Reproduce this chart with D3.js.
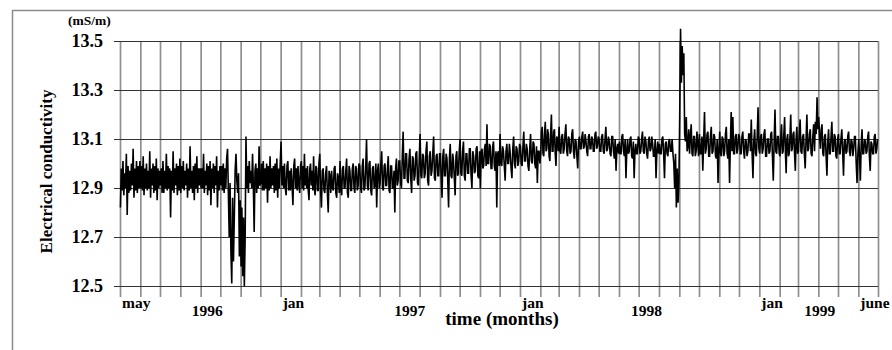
<!DOCTYPE html>
<html>
<head>
<meta charset="utf-8">
<script src="https://cdn.jsdelivr.net/npm/d3@7"></script>
<style>
  body { margin: 0; background: #fff; }
  svg { display: block; font-family: "Liberation Serif", "Times New Roman", serif; font-weight: bold; }
</style>
</head>
<body>
<div id="chart"></div>
<script>
// record runs from 1 May 1996 to the end of June 1999
const startDate = new Date(1996, 4, 1);
const endDate = new Date(1999, 6, 1);

// conductivity readings, hundredths of mS/m above 12.00, one row per month (May 1996 ... June 1999)
const conductivityByMonth = [
  [82, 98, 89, 101, 87, 96, 90, 104, 79, 99, 88, 97, 89, 100, 91, 106, 86, 98, 89, 101, 88, 99, 90, 101], // may 96
  [90, 99, 89, 103, 87, 98, 90, 100, 89, 97, 90, 105, 86, 98, 91, 100, 88, 99, 89, 102, 85, 98, 90, 97],
  [91, 98, 88, 101, 88, 97, 90, 104, 89, 99, 90, 98, 78, 97, 89, 105, 88, 98, 91, 100, 87, 99, 89, 102],
  [88, 99, 90, 101, 89, 97, 91, 100, 86, 98, 89, 107, 90, 97, 88, 99, 85, 100, 90, 103, 88, 98, 91, 98],
  [90, 98, 90, 104, 88, 97, 91, 100, 87, 99, 89, 101, 83, 98, 90, 100, 88, 99, 91, 103, 82, 97, 89, 99],
  [91, 99, 89, 100, 88, 98, 90, 102, 106, 88, 70, 92, 64, 51, 86, 60, 78, 97, 104, 93, 88, 96, 62, 85], // oct 96, drops
  [58, 82, 54, 78, 50, 70, 111, 90, 99, 88, 101, 92, 97, 90, 104, 91, 72, 97, 100, 88, 98, 90, 107, 91],
  [92, 100, 89, 101, 89, 98, 90, 100, 84, 99, 89, 103, 90, 98, 91, 99, 88, 100, 89, 102, 86, 98, 90, 100],
  [109, 91, 99, 90, 100, 90, 87, 99, 101, 89, 97, 89, 98, 91, 83, 99, 102, 90, 98, 89, 99, 91, 88, 99], // jan 97
  [101, 90, 99, 89, 104, 91, 98, 90, 99, 89, 85, 98, 100, 91, 97, 89, 103, 90, 87, 99, 98, 89, 89, 100],
  [104, 89, 82, 97, 98, 89, 88, 96, 99, 88, 80, 97, 95, 88, 97, 90, 89, 98, 99, 88, 86, 96, 94, 88],
  [101, 89, 87, 98, 99, 90, 90, 97, 102, 88, 86, 99, 97, 89, 89, 98, 100, 90, 88, 99, 98, 89, 91, 100],
  [99, 90, 88, 99, 102, 89, 90, 98, 110, 91, 89, 100, 101, 89, 87, 98, 99, 90, 91, 100, 82, 97, 100, 90],
  [92, 100, 105, 90, 89, 99, 100, 91, 91, 98, 103, 89, 88, 99, 99, 90, 90, 97, 80, 98, 102, 91, 93, 101],
  [101, 92, 90, 103, 113, 94, 94, 104, 104, 93, 92, 102, 106, 94, 88, 103, 102, 93, 95, 104, 105, 92, 91, 102],
  [112, 95, 94, 104, 103, 94, 96, 105, 109, 93, 91, 103, 105, 95, 97, 104, 111, 94, 93, 103, 104, 95, 95, 104],
  [104, 94, 86, 103, 106, 95, 95, 104, 102, 93, 82, 102, 108, 95, 94, 104, 101, 94, 87, 103, 105, 95, 96, 105],
  [110, 96, 95, 105, 109, 95, 93, 104, 104, 96, 96, 106, 106, 95, 90, 105, 103, 96, 97, 106, 107, 95, 94, 105],
  [90, 105, 106, 98, 99, 106, 108, 99, 116, 100, 100, 108, 107, 98, 98, 107, 109, 99, 97, 105, 82, 104, 105, 99],
  [112, 100, 99, 107, 105, 99, 93, 105, 108, 100, 100, 108, 104, 98, 94, 106, 111, 100, 98, 107, 106, 99, 101, 108],
  [107, 100, 99, 107, 113, 101, 101, 108, 106, 99, 97, 106, 112, 101, 100, 109, 108, 100, 98, 107, 92, 105, 105, 100], // jan 98
  [104, 113, 115, 104, 103, 112, 117, 105, 106, 114, 112, 103, 101, 112, 120, 105, 105, 113, 114, 104, 99, 111, 110, 105],
  [115, 105, 104, 111, 112, 104, 106, 112, 116, 105, 103, 111, 110, 104, 105, 112, 114, 105, 102, 110, 109, 103, 98, 109],
  [111, 106, 106, 111, 113, 106, 107, 112, 109, 105, 103, 111, 112, 106, 106, 111, 110, 105, 105, 112, 113, 106, 107, 111],
  [110, 105, 105, 111, 112, 105, 104, 110, 115, 105, 106, 111, 109, 104, 103, 111, 111, 105, 102, 110, 97, 106, 108, 104],
  [109, 104, 104, 111, 112, 105, 103, 110, 94, 105, 110, 104, 105, 110, 111, 103, 102, 109, 94, 105, 108, 104, 104, 111],
  [110, 104, 105, 110, 113, 105, 104, 111, 109, 104, 102, 109, 111, 105, 106, 111, 108, 103, 103, 110, 94, 105, 109, 104],
  [108, 104, 104, 110, 111, 104, 94, 108, 109, 104, 103, 109, 110, 105, 105, 110, 104, 100, 90, 104, 82, 98, 84, 92], // aug 98, drop
  [120, 155, 133, 148, 136, 145, 112, 109, 119, 105, 107, 114, 104, 111, 116, 104, 103, 111, 111, 103, 105, 113, 108, 103], // sep 98, peak
  [112, 104, 104, 111, 97, 109, 121, 104, 106, 112, 113, 103, 103, 111, 115, 104, 105, 112, 111, 103, 102, 110, 92, 105],
  [113, 104, 103, 111, 110, 103, 105, 112, 115, 104, 102, 110, 92, 108, 121, 105, 119, 104, 104, 111, 112, 104, 106, 112],
  [111, 104, 104, 111, 113, 105, 102, 110, 109, 103, 105, 112, 112, 105, 118, 104, 94, 109, 114, 104, 103, 111, 123, 106],
  [104, 111, 112, 104, 106, 112, 114, 103, 103, 110, 110, 104, 105, 112, 113, 103, 93, 109, 122, 105, 104, 111, 111, 104], // jan 99
  [103, 111, 116, 104, 105, 112, 119, 105, 96, 110, 112, 103, 104, 111, 120, 105, 106, 112, 113, 104, 97, 110, 115, 104],
  [105, 112, 118, 105, 104, 111, 112, 104, 98, 110, 120, 105, 106, 112, 114, 104, 103, 111, 116, 105, 117, 112, 127, 114],
  [119, 111, 106, 114, 116, 104, 103, 111, 112, 103, 95, 109, 114, 104, 104, 111, 117, 105, 105, 112, 111, 103, 102, 110],
  [112, 104, 104, 110, 114, 105, 95, 109, 110, 104, 105, 111, 113, 105, 103, 110, 109, 103, 106, 111, 111, 100, 92, 104],
  [110, 103, 93, 108, 114, 104, 104, 110, 109, 104, 105, 111, 113, 103, 97, 109, 108, 104, 104, 111, 112, 104, 106, 110]  // june 99
];

const yTicks = [12.5, 12.7, 12.9, 13.1, 13.3, 13.5];

const monthLabels = ["may", "jan", "jan", "jan", "june"];
const monthLabelDates = [new Date(1996, 4, 1), new Date(1997, 0, 1), new Date(1998, 0, 1), new Date(1999, 0, 1), new Date(1999, 5, 1)];
const yearLabels = ["1996", "1997", "1998", "1999"];
const yearLabelDates = [new Date(1996, 8, 11), new Date(1997, 6, 17), new Date(1998, 6, 13), new Date(1999, 3, 3)];

const width = 892, height = 350;
const marginLeft = 120, plotRight = 878, plotTop = 41, plotBottom = 286;

// flatten rows into dated samples spread evenly through each month
const samples = [];
conductivityByMonth.forEach((row, m) => {
  const t0 = d3.timeMonth.offset(startDate, m);
  const t1 = d3.timeMonth.offset(startDate, m + 1);
  row.forEach((v, j) => {
    samples.push({ date: new Date(+t0 + (j + 0.5) / row.length * (t1 - t0)), value: 12 + v / 100 });
  });
});

const x = d3.scaleTime().domain([startDate, endDate]).range([marginLeft, plotRight]);
const y = d3.scaleLinear().domain([12.5, 13.5]).range([plotBottom, plotTop]);

const svg = d3.select("#chart").append("svg")
  .attr("width", width)
  .attr("height", height);

// outer frame of the figure
svg.append("rect")
  .attr("x", 12.5).attr("y", 10.5)
  .attr("width", 920).attr("height", 400)
  .attr("fill", "none")
  .attr("stroke", "#8c8c8c")
  .attr("stroke-width", 1.5);

// monthly vertical grid lines, running a little below the axis
svg.append("g")
  .attr("transform", `translate(0,${plotBottom + 11})`)
  .call(d3.axisBottom(x)
    .tickValues(d3.timeMonth.range(startDate, d3.timeDay.offset(endDate, 1)))
    .tickSize(-(plotBottom + 11 - plotTop))
    .tickFormat(""))
  .call(g => g.select(".domain").remove())
  .call(g => g.selectAll(".tick line").attr("stroke", "#8f8f8f").attr("stroke-width", 1.7));

// horizontal grid lines with value labels
svg.append("g")
  .attr("transform", `translate(${plotRight},0)`)
  .call(d3.axisLeft(y)
    .tickValues(yTicks)
    .tickSize(plotRight - 114)
    .tickPadding(11)
    .tickFormat(d3.format(".1f")))
  .call(g => g.select(".domain").remove())
  .call(g => g.selectAll(".tick line").attr("stroke", "#333").attr("stroke-width", 1.1))
  .call(g => g.selectAll(".tick text")
    .attr("fill", "#000")
    .attr("font-family", "Liberation Serif, Times New Roman, serif")
    .attr("font-weight", "bold")
    .attr("font-size", "18px"));

// the trace
const line = d3.line()
  .x(d => x(d.date))
  .y(d => y(d.value));

svg.append("path")
  .datum(samples)
  .attr("fill", "none")
  .attr("stroke", "#000")
  .attr("stroke-width", 1.6)
  .attr("d", line);

// unit and axis titles
svg.append("text")
  .attr("x", 68).attr("y", 25)
  .attr("font-size", "13.5px")
  .text("(mS/m)");

svg.append("text")
  .attr("transform", `translate(52,${(plotTop + plotBottom) / 2 + 8}) rotate(-90)`)
  .attr("text-anchor", "middle")
  .attr("font-size", "17px")
  .text("Electrical conductivity");

svg.append("g")
  .selectAll("text")
  .data(monthLabels)
  .join("text")
  .attr("x", (d, i) => x(monthLabelDates[i]) + 2)
  .attr("y", 308)
  .attr("font-size", "15.5px")
  .text(d => d);

svg.append("g")
  .selectAll("text")
  .data(yearLabels)
  .join("text")
  .attr("x", (d, i) => x(yearLabelDates[i]))
  .attr("y", 316)
  .attr("text-anchor", "middle")
  .attr("font-size", "15.5px")
  .text(d => d);

svg.append("text")
  .attr("x", 502).attr("y", 325)
  .attr("text-anchor", "middle")
  .attr("font-size", "19px")
  .text("time (months)");
</script>
</body>
</html>
